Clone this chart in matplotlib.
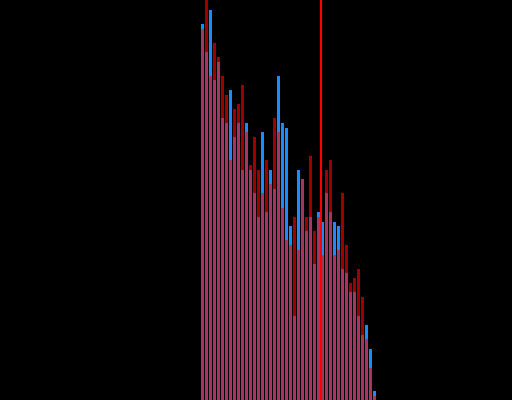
import matplotlib

matplotlib.use("Agg")
import matplotlib.pyplot as plt
import numpy as np

# bar heights (same bins for both series)
blue_counts = [376, 348, 390, 320, 338, 282, 277, 310, 263, 277, 230, 277, 230, 207, 183,
               268, 188, 230, 211, 324, 277, 272, 174, 84, 230, 221, 169, 183, 136, 188,
               178, 207, 188, 178, 174, 131, 127, 108, 108, 84, 65, 75, 51, 9]
red_counts = [371, 402, 324, 357, 343, 324, 305, 240, 291, 296, 315, 268, 235, 263, 230,
              207, 240, 216, 282, 268, 192, 160, 155, 183, 150, 221, 183, 244, 169, 183,
              145, 230, 240, 145, 150, 207, 155, 117, 122, 131, 103, 61, 32, 4]
marker_bin = 29.5

bins = np.arange(len(blue_counts))

fig = plt.figure(figsize=(5.12, 4.0), dpi=100, facecolor="black")
ax = fig.add_axes([0, 0, 1, 1])
ax.set_facecolor("black")

ax.bar(bins, blue_counts, width=0.75, color="#1a8cff", linewidth=0)
ax.bar(bins, red_counts, width=0.75, color="red", alpha=0.62, linewidth=0)
ax.axvline(marker_bin, color="red", linewidth=1.5)

ax.set_xlim(-50.625, 77.375)
ax.set_ylim(0, 400)
ax.set_axis_off()

fig.savefig("out.png", dpi=100, facecolor="black")
